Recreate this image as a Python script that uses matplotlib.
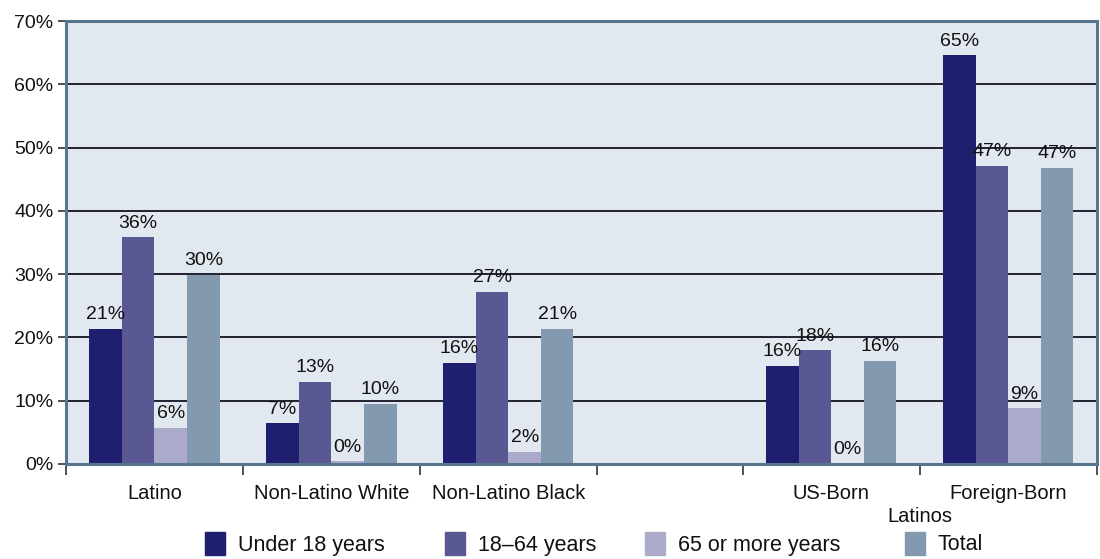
import matplotlib
matplotlib.use("Agg")
import matplotlib.pyplot as plt
import matplotlib.transforms as mtransforms
from matplotlib.patches import Rectangle

plt.rcParams["font.family"] = ["Liberation Sans", "DejaVu Sans"]

groups = ["Latino", "Non-Latino White", "Non-Latino Black", "US-Born", "Foreign-Born"]
series_names = ["Under 18 years", "18\u201364 years", "65 or more years", "Total"]
under18 = [21.4, 6.4, 16.0, 15.5, 64.6]
age18_64 = [35.8, 13.0, 27.2, 18.0, 47.1]
over65 = [5.7, 0.4, 1.9, 0.0, 8.8]
total = [29.9, 9.5, 21.4, 16.3, 46.8]
under18_lbl = ["21%", "7%", "16%", "16%", "65%"]
age18_64_lbl = ["36%", "13%", "27%", "18%", "47%"]
over65_lbl = ["6%", "0%", "2%", "0%", "9%"]
total_lbl = ["30%", "10%", "21%", "16%", "47%"]
y_ticks = [0, 10, 20, 30, 40, 50, 60, 70]

colors = ["#1e1f6f", "#5a5892", "#adabcc", "#8399b0"]
values = [under18, age18_64, over65, total]
value_labels = [under18_lbl, age18_64_lbl, over65_lbl, total_lbl]

# group layout (one empty, narrower slot between Black and US-Born)
bounds = [0, 1, 2, 3, 3.825, 4.825, 5.825]
centers = [0.5, 1.5, 2.5, 4.325, 5.325]
bw = 0.184

fig = plt.figure(figsize=(11, 5.59), dpi=100)
ax = fig.add_axes([0.06, 0.17, 0.937, 0.7924])
ax.set_facecolor("#e1e8f0")

for yv in y_ticks[1:-1]:
    ax.axhline(yv, color="#111122", lw=1.3, zorder=1)

for i, (vals, lbls) in enumerate(zip(values, value_labels)):
    xs = [c + (i - 1.5) * bw for c in centers]
    ax.bar(xs, vals, width=bw, color=colors[i], zorder=2)
    for x, v, t in zip(xs, vals, lbls):
        ax.annotate(t, (x, v), xytext=(0, 4), textcoords="offset points",
                    ha="center", va="bottom", fontsize=14, color="#111111", zorder=3)

ax.set_xlim(bounds[0], bounds[-1])
ax.set_ylim(0, 70)
ax.set_yticks(y_ticks)
ax.set_yticklabels([f"{v}%" for v in y_ticks], fontsize=14, color="#111111")
ax.set_xticks(bounds)
ax.set_xticklabels([])
ax.tick_params(axis="y", length=6, width=1.2, color="#333333", pad=3)
ax.tick_params(axis="x", length=8, width=1.2, color="#333333")

for s in ax.spines.values():
    s.set_color("#587590")
    s.set_linewidth(2.2)

trans = mtransforms.blended_transform_factory(ax.transData, ax.transAxes)
for c, g in zip(centers, groups):
    ax.text(c, -0.066, g, transform=trans, ha="center", va="center",
            fontsize=14.5, color="#111111")
ax.text(bounds[5], -0.118, "Latinos", transform=trans, ha="center", va="center",
        fontsize=14.5, color="#111111")

# legend along the bottom
leg_x = [205, 445, 645, 905]
for lx, name, col in zip(leg_x, series_names, colors):
    fig.patches.append(Rectangle((lx / 1100, 4 / 559), 20 / 1100, 23 / 559,
                                 transform=fig.transFigure, color=col))
    fig.text((lx + 33) / 1100, 14 / 559, name, ha="left", va="center",
             fontsize=15.5, color="#111111")

fig.savefig("out.png", dpi=100)
